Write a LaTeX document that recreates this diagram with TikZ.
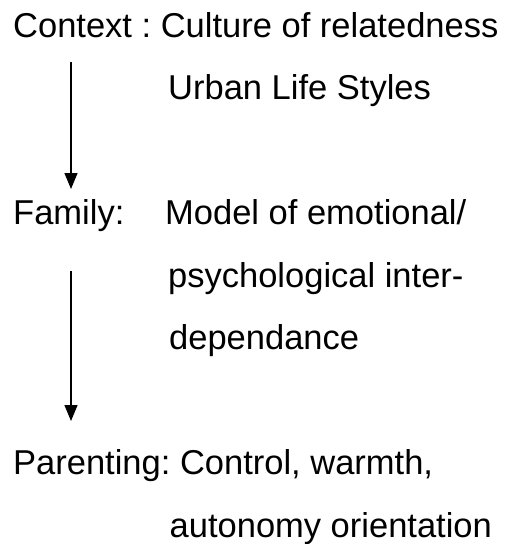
\documentclass[tikz,border=0pt]{standalone}
\usepackage{fontspec}
\setmainfont{Liberation Sans}
\usetikzlibrary{arrows.meta}
\begin{document}
\frenchspacing
\begin{tikzpicture}[x=1pt,y=1pt,
  lbl/.style={anchor=base west,inner sep=0pt,font=\fontsize{34.5}{40}\selectfont\frenchspacing},
  flow/.style={line width=1.3pt,-{Triangle[width=13pt,length=16pt]}}]
  \useasboundingbox (0,0) rectangle (508,-544);
  % context level
  \node[lbl] (ctx) at (13,-37) {Context : Culture of relatedness};
  \node[lbl] (urb) at (168,-99.5) {Urban Life Styles};
  % family level
  \node[lbl] (fam) at (13,-224.5) {Family:};
  \node[lbl] (mod1) at (165,-224.5) {Model of emotional/};
  \node[lbl] (mod2) at (168,-287) {psychological inter-};
  \node[lbl] (mod3) at (169,-349.5) {dependance};
  % parenting level
  \node[lbl] (par) at (13,-474.5) {Parenting: Control, warmth,};
  \node[lbl] (aut) at (169.5,-537) {autonomy orientation};
  % downward arrows between levels
  \coordinate (a1s) at (71,-62);
  \coordinate (a1e) at (71,-189);
  \coordinate (a2s) at (71,-271);
  \coordinate (a2e) at (71,-421);
  \draw[flow] (a1s) -- (a1e);
  \draw[flow] (a2s) -- (a2e);
\end{tikzpicture}
\end{document}
